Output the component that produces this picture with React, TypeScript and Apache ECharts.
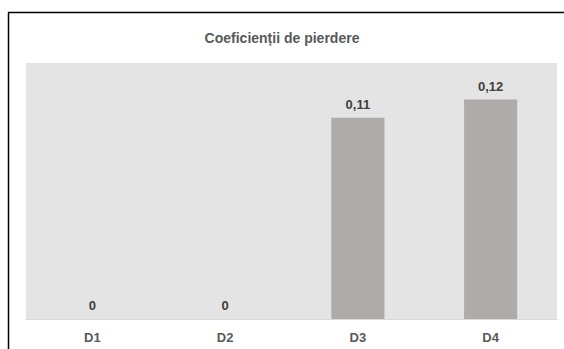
import React, { useEffect, useRef } from "react";
import * as echarts from "echarts";

const categories = ["D1", "D2", "D3", "D4"];
const values = [0, 0, 0.11, 0.12];
const titleText = "Coeficienții de pierdere";

export default function App() {
  const ref = useRef<HTMLDivElement>(null);
  useEffect(() => {
    if (!ref.current) return;
    const chart = echarts.init(ref.current, undefined, { renderer: "svg" });
    chart.setOption({
      animation: false,
      backgroundColor: "#ffffff",
      title: {
        text: titleText,
        left: "center",
        top: 26,
        textStyle: {
          fontFamily: "Liberation Sans, Arial, sans-serif",
          fontSize: 14,
          fontWeight: "bold",
          color: "#595959",
        },
      },
      grid: {
        left: 26,
        right: 7,
        top: 63,
        bottom: 30,
        show: true,
        backgroundColor: "#e4e4e4",
        borderWidth: 0,
      },
      xAxis: {
        type: "category",
        data: categories,
        axisLine: { lineStyle: { color: "#d9d9d9", width: 1 } },
        axisTick: { show: false },
        axisLabel: {
          margin: 12,
          fontFamily: "Liberation Sans, Arial, sans-serif",
          fontSize: 13,
          fontWeight: "bold",
          color: "#595959",
        },
      },
      yAxis: {
        type: "value",
        min: 0,
        max: 0.14,
        show: false,
        splitLine: { show: false },
      },
      series: [
        {
          type: "bar",
          data: values,
          barWidth: "40%",
          itemStyle: { color: "#afabaa" },
          label: {
            show: true,
            position: "top",
            distance: 7,
            fontFamily: "Liberation Sans, Arial, sans-serif",
            fontSize: 13,
            fontWeight: "bold",
            color: "#404040",
            formatter: (p: any) => String(p.value).replace(".", ","),
          },
        },
      ],
      graphic: [
        {
          type: "line",
          shape: { x1: 8.5, y1: 12.5, x2: 8.5, y2: 349 },
          style: { stroke: "#000000", lineWidth: 1.5 },
        },
        {
          type: "line",
          shape: { x1: 8, y1: 12.5, x2: 564, y2: 12.5 },
          style: { stroke: "#000000", lineWidth: 1.5 },
        },
      ],
    });
    return () => chart.dispose();
  }, []);
  return (
    <div
      style={{
        position: "fixed",
        left: 0,
        top: 0,
        width: 564,
        height: 349,
        overflow: "hidden",
      }}
    >
      <div ref={ref} style={{ width: 564, height: 349 }} />
    </div>
  );
}
